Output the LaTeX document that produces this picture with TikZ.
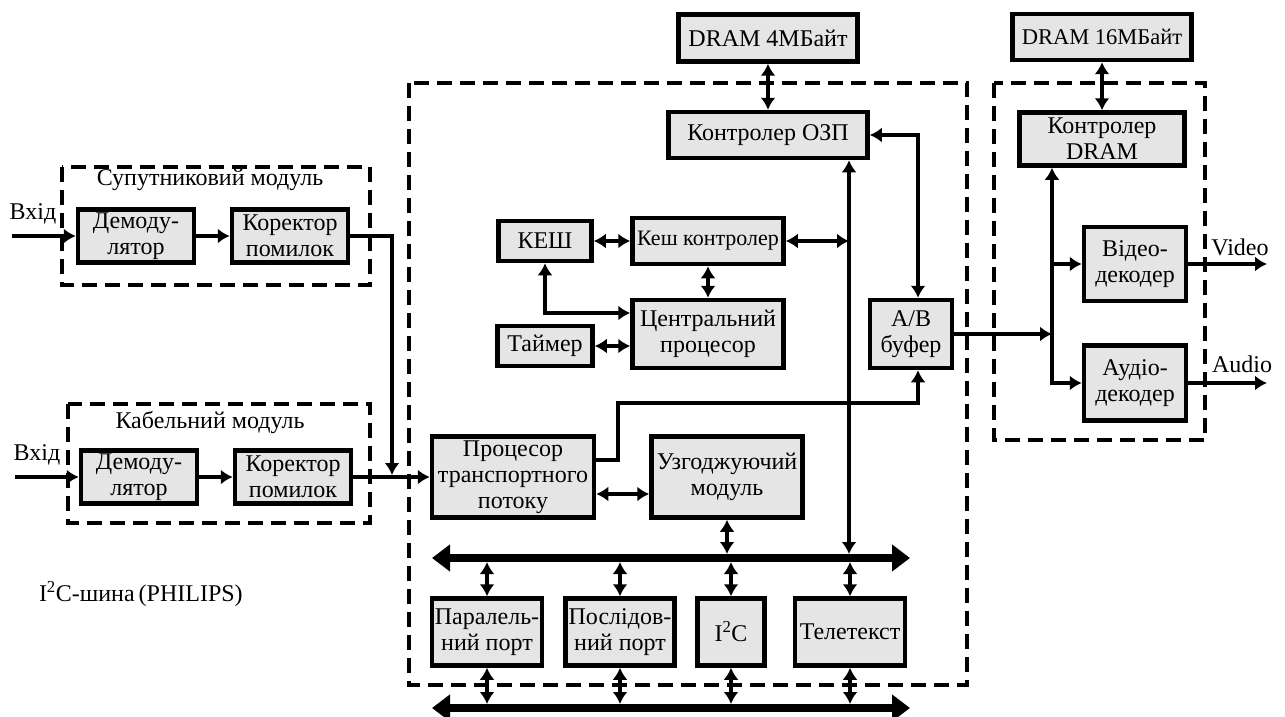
\documentclass[tikz,border=0pt]{standalone}
\usepackage{fontspec}
\setmainfont{Liberation Serif}
\usepackage{tikz}
\usetikzlibrary{arrows.meta}
\definecolor{boxgray}{gray}{0.9}

\begin{document}
\begin{tikzpicture}[x=1pt,y=-1pt,>={Latex[length=12pt,width=15pt]},line width=4pt,
    blk/.style={draw,fill=boxgray,line width=4.5pt,align=center,inner sep=1pt,font=\fontsize{24}{26}\selectfont},
    frame/.style={line width=4pt,dash pattern=on 15pt off 8pt},
    bus/.style={line width=8pt,{Triangle[length=18pt,width=26pt]}-{Triangle[length=18pt,width=26pt]}},
    lbl/.style={font=\fontsize{24}{26}\selectfont}]
    \useasboundingbox (0,0) rectangle (1285,717);
    \draw[frame] (62,167) rectangle (370,285) (68,404) rectangle (370,523) (409,83) rectangle (967,685) (994,83) rectangle (1205,440);
    \foreach \n/\x/\y in {1/136/236,2/139/477}{
    \node[blk,minimum width=116pt,minimum height=53pt] (dem\n) at (\x,\y) {Демоду-\\лятор};
    \node[blk,minimum width=116pt,minimum height=53pt] (cor\n) at (\x+154,\y) {Коректор\\помилок};
    }
    \node[blk,minimum width=179pt,minimum height=47pt] (dram4) at (768,38) {DRAM 4МБайт};
    \node[blk,minimum width=199pt,minimum height=46pt] (ozp) at (768,135) {Контролер ОЗП};
    \node[blk,minimum width=93pt,minimum height=40pt] (kesh) at (545,241) {КЕШ};
    \node[blk,minimum width=151pt,minimum height=46pt,font=\fontsize{22}{24}\selectfont] (kk) at (708,241) {Кеш контролер};
    \node[blk,minimum width=151pt,minimum height=68pt] (cpu) at (708,334) {Центральний\\процесор};
    \node[blk,minimum width=95pt,minimum height=40pt] (timer) at (545,346) {Таймер};
    \node[blk,minimum width=82pt,minimum height=68pt] (ab) at (911,334) {A/B\\буфер};
    \node[blk,minimum width=162pt,minimum height=81pt] (ptp) at (513,477) {Процесор\\транспортного\\потоку};
    \node[blk,minimum width=151pt,minimum height=81pt] (um) at (727,477) {Узгоджуючий\\модуль};
    \foreach \n/\x/\w/\t in {par/487/110/{Паралель-\\ний порт},pos/620/109/{Послідов-\\ний порт},i2c/731/67/{I\textsuperscript{2}C},tel/850/110/{Телетекст}}{
    \node[blk,minimum width=\w pt,minimum height=67pt] (\n) at (\x,632) {\t};
    }
    \node[blk,minimum width=179pt,minimum height=46pt,font=\fontsize{22.5}{25}\selectfont] (dram16) at (1102,37) {DRAM 16МБайт};
    \node[blk,minimum width=165pt,minimum height=53pt] (dctl) at (1102,139) {Контролер\\DRAM};
    \node[blk,minimum width=102pt,minimum height=74pt] (vid) at (1135,264) {Відео-\\декодер};
    \node[blk,minimum width=102pt,minimum height=75pt] (aud) at (1135,383) {Аудіо-\\декодер};
    \node[lbl] (inl1) at (33,214) {Вхід};
    \node[lbl] (inl2) at (37,455) {Вхід};
    \node[lbl] (satl) at (210,180) {Супутниковий модуль};
    \node[lbl] (cabl) at (210,422) {Кабельний модуль};
    \node[lbl] (vidl) at (1240,247) {Video};
    \node[lbl] (audl) at (1242,364) {Audio};
    \node[lbl,anchor=west,inner sep=0pt] (i2cl) at (37,594) {I\textsuperscript{2}C-шина\,(PHILIPS)};
    \coordinate (in1) at (12,236);
    \coordinate (in2) at (15,477);
    \coordinate (merge) at (392,477);
    \coordinate (vbus) at (849,0);
    \coordinate (dbus) at (1052,0);
    \coordinate (b1l) at (432,558);
    \coordinate (b1r) at (910,558);
    \coordinate (b2l) at (432,708);
    \coordinate (b2r) at (910,708);
    \coordinate (vout) at (1267,264);
    \coordinate (aout) at (1267,383);
    \draw[->] (in1) -- (dem1.west);
    \draw[->] (in2) -- (dem2.west);
    \draw[->] (dem1) -- (cor1);
    \draw[->] (dem2) -- (cor2);
    \draw[->,shorten >=2pt] (cor1.east) -| (merge);
    \draw[->] (cor2.east) -- (ptp.west);
    \draw[<->] (dram4) -- (ozp);
    \draw[<->] (ozp.east) -| ([xshift=7pt]ab.north);
    \draw[<->] (kesh) -- (kk);
    \draw[<->] (kk) -- (cpu);
    \draw[<->] (timer.east) -- (timer.east -| cpu.west);
    \draw[<->] (kesh.south) |- ([yshift=21pt]cpu.west);
    \draw[<->] (kk.east) -- (kk.east -| vbus);
    \draw[<->,shorten >=4pt] (ozp.south -| vbus) -- (vbus |- b1l);
    \draw[->] ([yshift=17pt]ptp.east) -- ++(22,0) |- ([xshift=7pt,yshift=-33pt]ab.south) -- ([xshift=7pt]ab.south);
    \draw[<->] ([yshift=-17pt]ptp.east) -- ([yshift=-17pt]um.west);
    \draw[bus] (b1l) -- (b1r);
    \draw[bus] (b2l) -- (b2r);
    \draw[<->,shorten >=4pt] (um.south) -- (um.south |- b1l);
    \foreach \n in {par,pos,i2c,tel}{
    \draw[<->,shorten <=4pt] (\n.north |- b1l) -- (\n.north);
    \draw[<->,shorten >=4pt] (\n.south) -- (\n.south |- b2l);
    }
    \draw[<->] (dram16) -- (dctl);
    \draw[<->] (dctl.south -| dbus) -- (aud.west -| dbus) -- (aud.west);
    \draw[->] (vid.west -| dbus) -- (vid.west);
    \draw[->] (ab.east) -- (ab.east -| dbus);
    \draw[->] (vid.east) -- (vout);
    \draw[->] (aud.east) -- (aout);
\end{tikzpicture}
\end{document}
